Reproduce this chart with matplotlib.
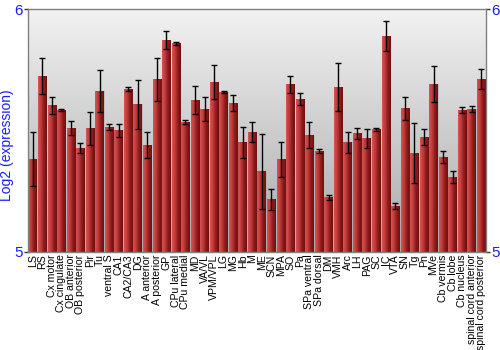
import numpy as np
import matplotlib
matplotlib.use("Agg")
import matplotlib.pyplot as plt
from matplotlib.colors import LinearSegmentedColormap

regions = ["LS", "RS", "Cx motor", "Cx cingulate", "OB anterior", "OB posterior",
           "Pir", "Tu", "ventral S", "CA1", "CA2/CA3", "DG", "A anterior",
           "A posterior", "GP", "CPu lateral", "CPu medial", "MD", "VA/VL",
           "VPM/VPL", "LG", "MG", "Hb", "M", "ME", "SCN", "MPA", "SO", "Pa",
           "SPa ventral", "SPa dorsal", "DM", "VMH", "Arc", "LH", "PAG", "SC",
           "IC", "VTA", "SN", "Tg", "Pn", "MVe", "Cb vermis", "Cb lobe",
           "Cb nucleus", "spinal cord anterior", "spinal cord posterior"]

expression = [5.382, 5.725, 5.605, 5.584, 5.510, 5.427, 5.510, 5.664, 5.514,
              5.502, 5.672, 5.609, 5.440, 5.712, 5.873, 5.861, 5.535, 5.626,
              5.588, 5.700, 5.659, 5.613, 5.452, 5.493, 5.332, 5.217, 5.382,
              5.692, 5.630, 5.481, 5.415, 5.225, 5.679, 5.452, 5.489, 5.469,
              5.506, 5.890, 5.188, 5.592, 5.407, 5.473, 5.692, 5.390, 5.308,
              5.584, 5.588, 5.712]

error = [0.111, 0.075, 0.035, 0.003, 0.029, 0.021, 0.068, 0.087, 0.012,
         0.027, 0.007, 0.101, 0.054, 0.089, 0.037, 0.006, 0.010, 0.056,
         0.050, 0.070, 0.004, 0.033, 0.064, 0.041, 0.155, 0.043, 0.072,
         0.035, 0.023, 0.054, 0.008, 0.010, 0.099, 0.043, 0.023, 0.039,
         0.006, 0.062, 0.012, 0.047, 0.124, 0.033, 0.074, 0.025, 0.025,
         0.012, 0.012, 0.041]

plt.rcParams['font.family'] = ['Liberation Sans', 'DejaVu Sans']

fig = plt.figure(figsize=(5, 3.5), dpi=100)
ax = fig.add_axes([0.056, 0.281, 0.916, 0.692])

n = len(regions)
x = np.arange(n)
ax.set_xlim(-0.5, n - 0.5)
ax.set_ylim(5, 6)

# gray background gradient
bg = LinearSegmentedColormap.from_list("bg", ["#a9a9a9", "#f2f2f2"])
ax.imshow(np.linspace(0, 1, 256).reshape(-1, 1), cmap=bg, aspect="auto",
          extent=[-0.5, n - 0.5, 5, 6], origin="lower", zorder=0)

# red bars with horizontal gradient
barcm = LinearSegmentedColormap.from_list("bar", ["#d65454", "#c23b3b", "#8e1c1c", "#6e1010"])
grad = np.linspace(0, 1, 64).reshape(1, -1)
w = 0.9
for xi, v in zip(x, expression):
    ax.bar(xi + 0.04, v - 5, bottom=5, width=w + 0.08, color="#b0b0b0", alpha=0.6,
           zorder=1, linewidth=0)
    ax.imshow(grad, cmap=barcm, aspect="auto",
              extent=[xi - w / 2, xi + w / 2, 5, v], zorder=2)

ax.errorbar(x, expression, yerr=error, fmt="none", ecolor="black",
            elinewidth=1, capsize=2.5, capthick=1, zorder=3)

ax.set_xticks(x)
ax.set_xticklabels(regions, rotation=90, fontsize=7.6)
ax.tick_params(axis="x", length=0, pad=2)

ax.set_yticks([5, 6])
ax.set_yticklabels(["5", "6"], fontsize=11, color="#1a1aff")
ax.tick_params(axis="y", length=3, width=1, color="#333333", pad=1,
               left=True, right=True, labelleft=True, labelright=True)
ax.set_ylabel("Log2 (expression)", fontsize=10, color="#1a1aff")
ax.yaxis.set_label_coords(-0.03, 0.44)

for s in ax.spines.values():
    s.set_color("#808080")
    s.set_linewidth(1)

fig.savefig("out.png", dpi=100)
